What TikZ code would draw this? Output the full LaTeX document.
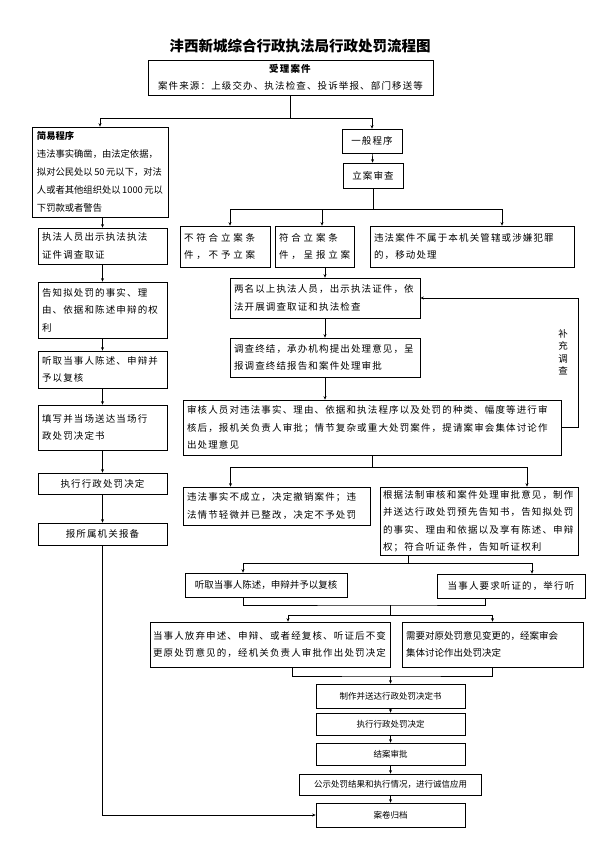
\documentclass[tikz,border=0pt]{standalone}
\usepackage{fontspec}
\setmainfont{Noto Sans CJK SC}
\newfontfamily\spacedcjk{Noto Sans CJK SC}[LetterSpace=12]
\newfontfamily\widecjk{Noto Sans CJK SC}[LetterSpace=30]
\usetikzlibrary{arrows.meta}

\begin{document}
\begin{tikzpicture}[
    x=1pt, y=-1pt,
    box/.style={draw, line width=0.7pt, inner xsep=4pt, inner ysep=1pt, align=left,
                font=\spacedcjk\fontsize{9.5}{17.5}\selectfont},
    plainbox/.style={box, font=\fontsize{9.5}{17.5}\selectfont},
    widebox/.style={box, font=\widecjk\fontsize{9.5}{17.5}\selectfont},
    smallbox/.style={box, align=center, font=\fontsize{8.5}{10}\selectfont},
    ln/.style={line width=0.6pt},
    arr/.style={ln, -{Stealth[length=3.5pt, width=3pt]}},
    lbl/.style={font=\fontsize{9.5}{12.5}\selectfont, align=center}
]
\fill[white] (0,0) rectangle (600,849);
\useasboundingbox (0,0) rectangle (600,849);

\node[font=\bfseries\fontsize{14.5}{16}\selectfont] (title) at (300,46) {沣西新城综合行政执法局行政处罚流程图};

\node[box, align=center, text width=277pt, minimum height=35pt] (recv) at (290.5,77.5)
    {\textbf{受理案件}\\案件来源：上级交办、执法检查、投诉举报、部门移送等};

% simple procedure
\node[plainbox, minimum width=136pt, minimum height=90pt, font=\fontsize{9.3}{18}\selectfont] (simple) at (100,172)
    {\textbf{简易程序}\\违法事实确凿，由法定依据，\\拟对公民处以\,50\,元以下，对法\\人或者其他组织处以\,1000\,元以\\下罚款或者警告};
\node[box, text width=121pt, minimum height=36pt] (lshow) at (102.5,246) {执法人员出示执法执法\\证件调查取证};
\node[box, text width=121pt, minimum height=56pt] (linform) at (102.5,310) {告知拟处罚的事实、理\\由、依据和陈述申辩的权\\利};
\node[box, text width=121pt, minimum height=37pt] (llisten) at (102.5,369.5) {听取当事人陈述、申辩并\\予以复核};
\node[box, text width=121pt, minimum height=45pt] (lfill) at (102.5,427.5) {填写并当场送达当场行\\政处罚决定书};
\node[box, align=center, text width=121pt, minimum height=21pt] (lexec) at (102.5,483.5) {执行行政处罚决定};
\node[box, align=center, text width=121pt, minimum height=22pt] (lreport) at (102.5,534) {报所属机关报备};

% general procedure
\node[box, align=center, text width=52pt, minimum height=24pt] (general) at (372,141) {一般程序};
\node[box, align=center, text width=52pt, minimum height=25pt] (review) at (373,175.5) {立案审查};
\node[widebox, text width=82pt, minimum height=41pt] (reject) at (225,246.5) {不符合立案条\\件，不予立案};
\node[widebox, text width=71pt, minimum height=41pt] (file) at (314.5,246.5) {符合立案条\\件，呈报立案};
\node[box, text width=196pt, minimum height=41pt] (transfer) at (472,246.5) {违法案件不属于本机关管辖或涉嫌犯罪\\的，移动处理};
\node[box, text width=182pt, minimum height=40pt] (invest) at (325,298) {两名以上执法人员，出示执法证件，依\\法开展调查取证和执法检查};
\node[box, text width=182pt, minimum height=39pt] (conclude) at (325,357.5) {调查终结，承办机构提出处理意见，呈\\报调查终结报告和案件处理审批};
\node[box, text width=370pt, minimum height=55pt] (audit) at (372,427.5) {审核人员对违法事实、理由、依据和执法程序以及处罚的种类、幅度等进行审\\核后，报机关负责人审批；情节复杂或重大处罚案件，提请案审会集体讨论作\\出处理意见};
\node[box, text width=179pt, minimum height=38pt] (void) at (276.5,506) {违法事实不成立，决定撤销案件；违\\法情节轻微并已整改，决定不予处罚};
\node[box, inner xsep=3pt, text width=192pt, minimum height=68pt] (notify) at (479,521) {根据法制审核和案件处理审批意见，制作\\并送达行政处罚预先告知书，告知拟处罚\\的事实、理由和依据以及享有陈述、申辩\\权；符合听证条件，告知听证权利};
\node[plainbox, align=center, text width=154pt, minimum height=24pt] (hear) at (266,585) {听取当事人陈述，申辩并予以复核};
\node[box, align=center, text width=140pt, minimum height=24pt] (request) at (511,586) {当事人要求听证的，举行听};
\node[box, inner xsep=3pt, text width=234pt, minimum height=45pt] (waive) at (270,644.5) {当事人放弃申述、申辩、或者经复核、听证后不变\\更原处罚意见的，经机关负责人审批作出处罚决定};
\node[plainbox, text width=173pt, minimum height=45pt] (change) at (492.5,644.5) {需要对原处罚意见变更的，经案审会\\集体讨论作出处罚决定};
\node[smallbox, text width=141pt, minimum height=24pt] (make) at (390.5,696) {制作并送达行政处罚决定书};
\node[smallbox, text width=141pt, minimum height=22pt] (exec) at (390.5,724) {执行行政处罚决定};
\node[smallbox, text width=141pt, minimum height=22pt] (close) at (390.5,754) {结案审批};
\node[smallbox, text width=174pt, minimum height=21pt] (publish) at (390.5,784.5) {公示处罚结果和执行情况，进行诚信应用};
\node[smallbox, text width=141pt, minimum height=24pt] (archive) at (390.5,815) {案卷归档};
\node[lbl] (supp) at (563,352) {补\\充\\调\\查};

% split points
\coordinate (split1) at (293,118);
\coordinate (split2) at (373,209);
\coordinate (split3) at (372,467);
\coordinate (split4) at (408,563);
\coordinate (join1) at (390,605);
\coordinate (split5) at (390,615);
\coordinate (join2) at (390.5,676);

\draw[ln] (recv.south) -- (recv.south |- split1);
\draw[arr] (recv.south |- split1) -| (simple.north);
\draw[arr] (recv.south |- split1) -| (general.north);

% left column
\draw[arr] (simple.south -| lshow) -- (lshow);
\draw[arr] (lshow) -- (linform);
\draw[arr] (linform) -- (llisten);
\draw[arr] (llisten) -- (lfill);
\draw[arr] (lfill) -- (lexec);
\draw[arr] (lexec) -- (lreport);
\draw[arr] (lreport.south) |- (archive.west);

% right column
\draw[arr] (general) -- (review);
\draw[ln] (review.south) -- (review.south |- split2);
\draw[arr] (review.south |- split2) -| ([xshift=5pt]reject.north);
\draw[arr] (review.south |- split2) -| ([xshift=7.5pt]file.north);
\draw[arr] (review.south |- split2) -| ([xshift=30pt]transfer.north);
\draw[arr] (invest.north |- file.south) -- (invest.north);
\draw[arr] (invest) -- (conclude);
\draw[arr] (conclude.south) -- (conclude.south |- audit.north);
\draw[arr] (audit.east) -- ++(17,0) |- (invest.east);

\draw[ln] (audit.south) -- (split3);
\draw[arr] (split3) -| ([xshift=-46pt]void.north);
\draw[arr] (split3) -| ([xshift=48pt]notify.north);

\draw[ln] (notify.south -| split4) -- (split4);
\draw[arr] (split4) -| ([xshift=-23pt]hear.north);
\draw[arr] (split4) -| ([xshift=21pt]request.north);

\draw[ln] ([xshift=-23pt]hear.south) |- (join1) -| ([xshift=-26pt]request.south);
\draw[ln] (join1) -- (split5);
\draw[arr] (split5) -| ([xshift=18pt]waive.north);
\draw[arr] (split5) -| (change.north);

\draw[ln] ([xshift=22pt]waive.south) |- (join2) -| (change.south);
\draw[arr] (join2) -- (make);
\draw[arr] (make) -- (exec);
\draw[arr] (exec) -- (close);
\draw[arr] (close) -- (publish);
\draw[arr] (publish) -- (archive);
\end{tikzpicture}
\end{document}
